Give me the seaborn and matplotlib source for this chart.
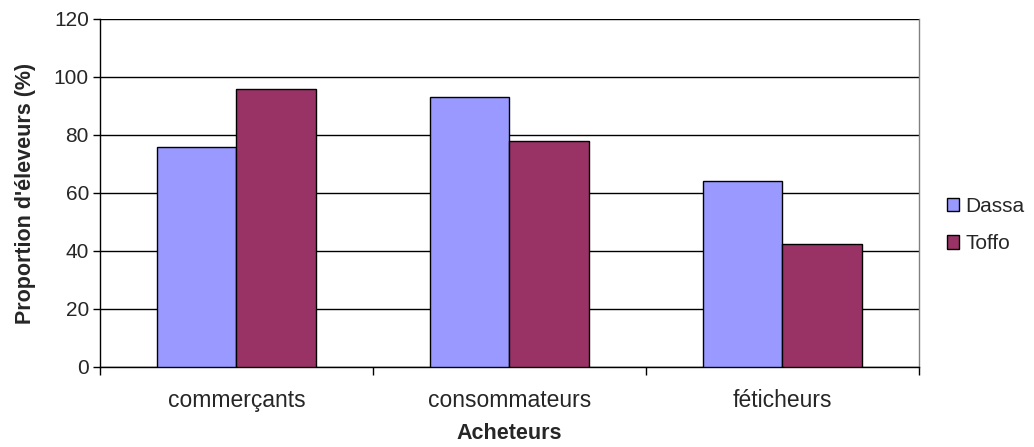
import matplotlib
matplotlib.use("Agg")
import matplotlib.pyplot as plt
import seaborn as sns
import pandas as pd

categories = ["commerçants", "consommateurs", "féticheurs"]
dassa = [76, 93, 64.2]
toffo = [96, 77.8, 42.4]
series_names = ["Dassa", "Toffo"]
y_ticks = [0, 20, 40, 60, 80, 100, 120]

df = pd.DataFrame({
    "Acheteurs": categories * 2,
    "Valeur": dassa + toffo,
    "Site": [series_names[0]] * 3 + [series_names[1]] * 3,
})

sns.set_style("white")
plt.rcParams["font.family"] = ["Liberation Sans", "DejaVu Sans"]

fig = plt.figure(figsize=(10.34, 4.47), dpi=100)
ax = fig.add_axes([100 / 1034, 1 - 367 / 447, (919 - 100) / 1034, (367 - 19) / 447])

palette = {"Dassa": "#9999FF", "Toffo": "#993366"}
sns.barplot(data=df, x="Acheteurs", y="Valeur", hue="Site", palette=palette,
            width=0.58, gap=0, edgecolor="black", linewidth=1.0,
            saturation=1, ax=ax, zorder=3)

ax.set_xlim(-0.5, 2.5)
ax.set_ylim(0, 120)
ax.set_yticks(y_ticks)
ax.yaxis.grid(True, color="black", linewidth=1.0, zorder=0)
ax.set_axisbelow(True)

# category boundaries carry the tick marks, labels sit at the centres
ax.set_xticks([0, 1, 2])
ax.set_xticklabels(categories, fontsize=16.5)
ax.set_xticks([-0.5, 0.5, 1.5, 2.5], minor=True)
ax.tick_params(axis="x", which="major", length=0, pad=16)
ax.tick_params(axis="x", which="minor", length=6, width=1, color="black", direction="out", bottom=True)
ax.tick_params(axis="y", length=5, width=1, color="black", direction="out", left=True, labelsize=15, pad=3)

for side in ["left", "bottom"]:
    ax.spines[side].set_color("black")
    ax.spines[side].set_linewidth(1.0)
ax.spines["top"].set_visible(False)
ax.spines["right"].set_color("#808080")
ax.spines["right"].set_linewidth(1.0)

ax.set_xlabel("Acheteurs", fontsize=15.5, fontweight="bold", labelpad=8)
ax.set_ylabel("Proportion d'éleveurs (%)", fontsize=15.5, fontweight="bold", labelpad=13)

leg = ax.legend(loc="center left", bbox_to_anchor=(1.024, 0.408), borderaxespad=0,
                frameon=False, fontsize=15, handlelength=0.6, handleheight=0.6,
                handletextpad=0.3, labelspacing=0.9)
for h in leg.legend_handles:
    h.set_edgecolor("black")
    h.set_linewidth(1.0)

fig.savefig("out.png", dpi=100)
